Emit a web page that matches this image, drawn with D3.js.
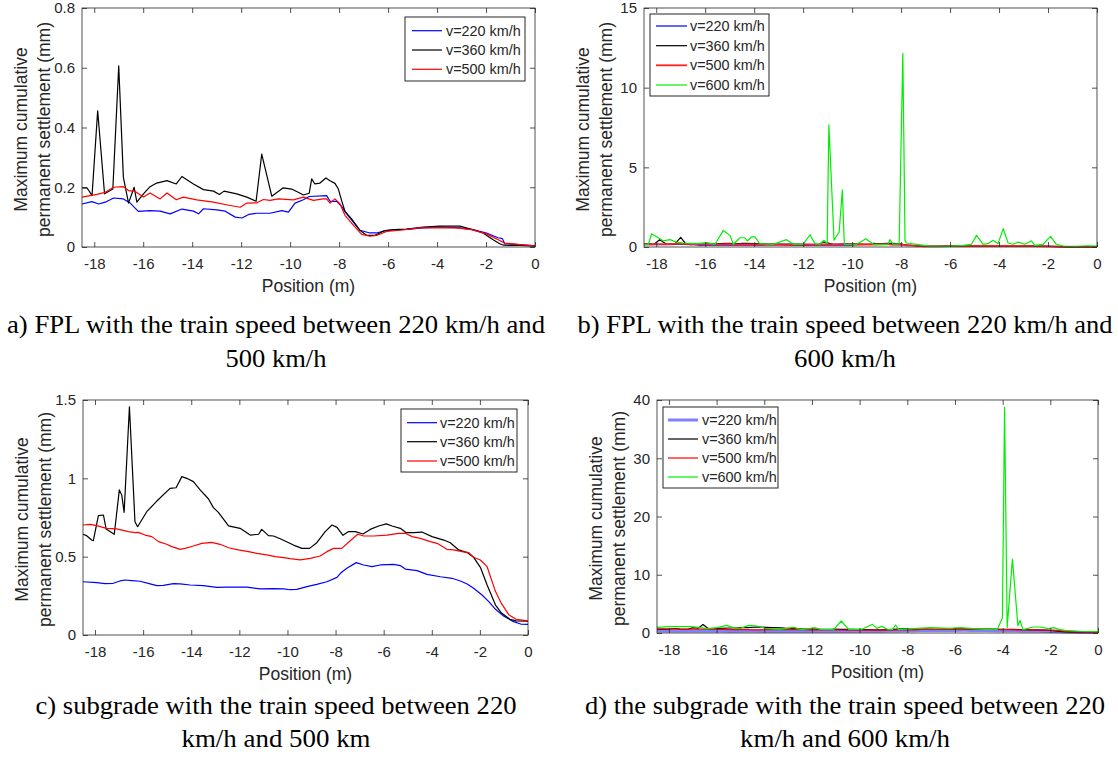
<!DOCTYPE html>
<html>
<head>
<meta charset="utf-8">
<script src="https://d3js.org/d3.v7.min.js"></script>
<style>
  body { margin: 0; background: #fff; }
  svg { display: block; }
  .sans { font-family: "Liberation Sans", Arimo, Arial, sans-serif; }
  .serif { font-family: "Liberation Serif", Tinos, "Times New Roman", serif; }
</style>
</head>
<body>
<script>
// x ticks shared by every panel (m)
var xTicks = [-18, -16, -14, -12, -10, -8, -6, -4, -2, 0];
var xDomain = [-18.5, 0];

// y ticks per panel (mm)
var aTicks = [0, 0.2, 0.4, 0.6, 0.8];
var bTicks = [0, 5, 10, 15];
var cTicks = [0, 0.5, 1, 1.5];
var dTicks = [0, 10, 20, 30, 40];

var speeds3 = ["v=220 km/h", "v=360 km/h", "v=500 km/h"];
var speeds4 = ["v=220 km/h", "v=360 km/h", "v=500 km/h", "v=600 km/h"];

// FPL, [position, settlement]
var fpl220 = [[-18.5,0.144],[-18.09,0.152],[-17.82,0.144],[-17.55,0.15],[-17.21,0.164],[-16.81,0.161],[-16.53,0.147],[-16.2,0.119],[-15.72,0.122],[-15.31,0.12],[-14.9,0.111],[-14.42,0.127],[-13.95,0.12],[-13.74,0.111],[-13.54,0.128],[-12.99,0.124],[-12.65,0.12],[-12.24,0.1],[-11.97,0.097],[-11.69,0.109],[-11.36,0.113],[-10.82,0.113],[-10.34,0.122],[-10.07,0.117],[-9.8,0.147],[-9.46,0.158],[-9.22,0.169],[-8.51,0.172],[-8.37,0.153],[-8.1,0.153],[-7.9,0.136],[-7.69,0.111],[-7.15,0.056],[-6.74,0.047],[-6.47,0.047],[-6.06,0.056],[-5.25,0.059],[-4.57,0.064],[-3.89,0.067],[-3.07,0.064],[-2.53,0.058],[-1.98,0.047],[-1.51,0.031],[-1.33,0.028],[-1.24,0.011],[-0.8,0.009],[0,0.004]];
var fpl360 = [[-18.5,0.198],[-18.3,0.198],[-18.23,0.19],[-18.09,0.172],[-17.86,0.456],[-17.58,0.178],[-17.24,0.194],[-17.0,0.606],[-16.81,0.233],[-16.6,0.147],[-16.37,0.2],[-16.26,0.15],[-15.99,0.178],[-15.72,0.202],[-15.45,0.214],[-15.03,0.222],[-14.65,0.211],[-14.42,0.236],[-13.95,0.211],[-13.54,0.192],[-13.13,0.187],[-12.89,0.176],[-12.7,0.187],[-12.18,0.178],[-11.77,0.167],[-11.39,0.153],[-11.16,0.311],[-10.75,0.17],[-10.28,0.198],[-9.94,0.194],[-9.67,0.183],[-9.46,0.174],[-9.22,0.18],[-9.12,0.228],[-8.99,0.211],[-8.78,0.214],[-8.54,0.231],[-8.37,0.222],[-8.17,0.213],[-8.03,0.194],[-7.9,0.156],[-7.76,0.119],[-7.49,0.094],[-7.15,0.056],[-6.88,0.039],[-6.54,0.039],[-6.2,0.053],[-5.79,0.058],[-5.25,0.06],[-4.57,0.067],[-3.89,0.07],[-3.07,0.07],[-2.66,0.061],[-2.12,0.047],[-1.71,0.024],[-1.44,0.011],[-1.28,0.006],[-0.6,0.005],[0,0.003]];
var fpl500 = [[-18.5,0.167],[-17.89,0.176],[-17.55,0.183],[-17.21,0.2],[-16.81,0.202],[-16.6,0.189],[-16.33,0.186],[-15.99,0.167],[-15.72,0.181],[-15.31,0.161],[-15.03,0.181],[-14.65,0.158],[-14.36,0.167],[-13.81,0.158],[-13.13,0.15],[-12.45,0.139],[-12.04,0.133],[-11.77,0.147],[-11.36,0.148],[-11.09,0.159],[-10.82,0.156],[-10.48,0.161],[-9.87,0.158],[-9.46,0.167],[-9.05,0.156],[-8.65,0.161],[-8.51,0.161],[-8.37,0.147],[-8.17,0.161],[-7.96,0.144],[-7.76,0.106],[-7.49,0.08],[-7.08,0.042],[-6.74,0.036],[-6.47,0.039],[-6.06,0.052],[-5.52,0.056],[-4.7,0.064],[-3.89,0.064],[-3.21,0.064],[-2.6,0.058],[-1.98,0.044],[-1.44,0.022],[-1.24,0.013],[-0.6,0.008],[0,0.004]];
var fpl600 = [[-18.5,0.17],[-18.32,0.17],[-18.19,0.83],[-17.85,0.52],[-17.71,0.38],[-17.44,0.46],[-17.17,0.31],[-16.9,0.25],[-16.35,0.21],[-15.94,0.27],[-15.6,0.17],[-15.26,1.04],[-14.99,0.73],[-14.85,0.17],[-14.58,0.58],[-14.38,0.58],[-14.28,0.38],[-14.11,0.63],[-13.97,0.63],[-13.77,0.21],[-13.22,0.17],[-12.68,0.46],[-12.4,0.17],[-12.0,0.17],[-11.72,0.77],[-11.52,0.21],[-11.32,0.17],[-11.15,0.42],[-11.02,0.21],[-10.95,7.67],[-10.74,0.42],[-10.53,0.94],[-10.4,3.58],[-10.32,0.17],[-9.82,0.17],[-9.44,0.52],[-9.14,0.17],[-8.53,0.17],[-8.46,0.46],[-8.32,0.17],[-8.08,0.2],[-7.93,12.15],[-7.84,0.4],[-7.78,0.25],[-7.37,0.17],[-6.83,0.06],[-6.01,0.04],[-5.47,0.1],[-5.13,0.17],[-4.92,0.73],[-4.65,0.17],[-4.45,0.21],[-4.24,0.42],[-4.04,0.21],[-3.83,1.15],[-3.63,0.25],[-3.43,0.17],[-3.22,0.31],[-2.95,0.17],[-2.68,0.38],[-2.54,0.1],[-2.2,0.17],[-1.9,0.67],[-1.66,0.17],[-1.39,0.06],[-0.8,0.04],[-0.4,0.08],[0,0.05]];

// subgrade, [position, settlement]
var sub220 = [[-18.5,0.34],[-17.93,0.334],[-17.58,0.328],[-17.24,0.33],[-16.96,0.345],[-16.75,0.351],[-16.47,0.347],[-16.13,0.343],[-15.71,0.326],[-15.43,0.315],[-15.16,0.317],[-14.74,0.328],[-14.46,0.326],[-14.05,0.319],[-13.49,0.315],[-12.94,0.304],[-12.52,0.306],[-12.1,0.306],[-11.69,0.306],[-11.13,0.294],[-10.58,0.296],[-10.16,0.294],[-9.89,0.289],[-9.61,0.291],[-9.19,0.309],[-8.78,0.323],[-8.36,0.34],[-7.94,0.368],[-7.8,0.394],[-7.53,0.426],[-7.14,0.462],[-6.83,0.447],[-6.49,0.436],[-6.14,0.447],[-5.59,0.451],[-5.31,0.443],[-5.1,0.421],[-4.61,0.411],[-4.2,0.387],[-3.64,0.372],[-3.16,0.362],[-2.81,0.345],[-2.53,0.326],[-2.26,0.298],[-1.91,0.255],[-1.63,0.213],[-1.35,0.164],[-1.0,0.12],[-0.6,0.085],[-0.3,0.07],[0,0.068]];
var sub360 = [[-18.5,0.643],[-18.35,0.634],[-18.14,0.606],[-18.07,0.602],[-17.86,0.762],[-17.65,0.766],[-17.54,0.677],[-17.2,0.643],[-16.99,0.926],[-16.89,0.894],[-16.79,0.783],[-16.57,1.457],[-16.34,0.723],[-16.23,0.691],[-15.85,0.787],[-15.43,0.855],[-14.88,0.936],[-14.63,0.94],[-14.39,1.011],[-14.19,1.0],[-13.91,0.979],[-13.63,0.926],[-13.28,0.868],[-13.08,0.813],[-12.87,0.783],[-12.45,0.696],[-11.97,0.681],[-11.55,0.638],[-11.2,0.643],[-11.07,0.674],[-10.79,0.634],[-10.58,0.632],[-10.3,0.614],[-9.75,0.574],[-9.4,0.553],[-9.08,0.553],[-8.78,0.589],[-8.43,0.66],[-8.15,0.702],[-7.94,0.687],[-7.69,0.636],[-7.46,0.66],[-7.18,0.66],[-6.86,0.645],[-6.56,0.674],[-6.21,0.696],[-5.89,0.709],[-5.65,0.696],[-5.31,0.681],[-5.06,0.653],[-4.75,0.653],[-4.41,0.657],[-3.99,0.628],[-3.5,0.606],[-3.23,0.589],[-2.88,0.543],[-2.53,0.526],[-2.26,0.496],[-1.98,0.432],[-1.7,0.319],[-1.35,0.191],[-1.1,0.14],[-0.75,0.1],[-0.5,0.09],[0,0.088]];
var sub500 = [[-18.5,0.702],[-18.21,0.706],[-17.93,0.698],[-17.52,0.681],[-17.1,0.677],[-16.61,0.66],[-16.34,0.653],[-16.2,0.655],[-15.92,0.638],[-15.64,0.628],[-15.36,0.596],[-15.02,0.579],[-14.81,0.564],[-14.46,0.547],[-14.26,0.553],[-13.91,0.568],[-13.56,0.585],[-13.15,0.591],[-12.8,0.579],[-12.45,0.557],[-12.04,0.543],[-11.62,0.532],[-11.27,0.521],[-10.86,0.511],[-10.51,0.5],[-10.16,0.494],[-9.89,0.487],[-9.47,0.479],[-9.05,0.489],[-8.64,0.504],[-8.36,0.532],[-8.08,0.553],[-7.74,0.553],[-7.39,0.602],[-7.08,0.643],[-6.83,0.632],[-6.42,0.632],[-5.86,0.638],[-5.38,0.649],[-5.1,0.649],[-4.82,0.628],[-4.48,0.617],[-4.06,0.596],[-3.78,0.585],[-3.37,0.547],[-3.09,0.543],[-2.74,0.532],[-2.46,0.526],[-2.26,0.496],[-1.98,0.479],[-1.7,0.436],[-1.35,0.277],[-1.1,0.2],[-0.8,0.13],[-0.5,0.1],[0,0.09]];
var sub600 = [[-18.5,0.97],[-17.94,1.09],[-17.1,1.09],[-16.75,0.97],[-16.4,0.74],[-15.98,0.91],[-15.57,1.31],[-15.29,0.91],[-15.0,0.8],[-14.66,1.31],[-14.31,1.2],[-13.96,0.8],[-13.33,0.63],[-12.77,0.97],[-12.42,0.57],[-11.86,0.91],[-11.65,0.63],[-11.09,0.57],[-10.77,2.06],[-10.46,0.63],[-9.9,0.63],[-9.46,1.49],[-9.28,0.8],[-9.07,1.14],[-8.79,0.57],[-8.62,0.63],[-8.49,1.37],[-8.37,0.57],[-7.74,0.74],[-7.04,0.91],[-6.2,0.8],[-5.78,0.91],[-5.22,0.74],[-4.73,0.63],[-4.22,0.63],[-4.01,2.57],[-3.92,38.74],[-3.81,0.97],[-3.59,12.69],[-3.36,1.26],[-3.27,2.17],[-3.15,0.57],[-2.71,1.03],[-2.43,1.03],[-2.08,0.74],[-1.87,0.91],[-1.59,0.57],[-1.38,0.46],[-0.8,0.3],[0,0.25]];

var W = 1118, H = 758;
var svg = d3.select("body").append("svg").attr("width", W).attr("height", H);
var ink = "#262626";

var panels = [
  { left: 82, right: 535, top: 8, bottom: 247, ymax: 0.8, yTicks: aTicks,
    series: [
      { data: fpl220, color: "#0000ff", w: 1.2 },
      { data: fpl360, color: "#000000", w: 1.2 },
      { data: fpl500, color: "#ff0000", w: 1.2 }],
    legend: { x: 405, y: 17, w: 120, h: 64, rows: [30.7, 50, 69.3], x1: 412, x2: 442, tx: 446, names: speeds3 } },
  { left: 644, right: 1097, top: 8, bottom: 247, ymax: 15, yTicks: bTicks,
    series: [
      { data: fpl220, color: "#0000ff", w: 1.2 },
      { data: fpl360, color: "#000000", w: 1.2 },
      { data: fpl500, color: "#ff2020", w: 1.8 },
      { data: fpl600, color: "#00ee00", w: 1.2 }],
    legend: { x: 650, y: 14, w: 119, h: 82, rows: [26, 45.7, 65.3, 85], x1: 656, x2: 687, tx: 690, names: speeds4 } },
  { left: 83, right: 528, top: 400, bottom: 635, ymax: 1.5, yTicks: cTicks,
    series: [
      { data: sub220, color: "#0000ff", w: 1.2 },
      { data: sub360, color: "#000000", w: 1.2 },
      { data: sub500, color: "#ff0000", w: 1.2 }],
    legend: { x: 401, y: 409, w: 116, h: 63, rows: [422.7, 441.7, 461], x1: 407, x2: 437, tx: 440, names: speeds3 } },
  { left: 657, right: 1098, top: 400, bottom: 633, ymax: 40, yTicks: dTicks,
    series: [
      { data: sub220, color: "#7f7fff", w: 3 },
      { data: sub360, color: "#000000", w: 1.2 },
      { data: sub500, color: "#ff0000", w: 1.2 },
      { data: sub600, color: "#00ee00", w: 1.2 }],
    legend: { x: 663, y: 407, w: 115, h: 81, rows: [420, 439, 458, 477], x1: 668, x2: 698, tx: 702, names: speeds4 } }
];

var captions = [
  { cx: 276, lines: ["a) FPL with the train speed between 220 km/h and", "500 km/h"], y: [333, 367], len: [538, 101] },
  { cx: 845, lines: ["b) FPL with the train speed between 220 km/h and", "600 km/h"], y: [333, 367], len: [535, 102] },
  { cx: 276, lines: ["c) subgrade with the train speed between 220", "km/h and 500 km"], y: [714, 747], len: [481, 189] },
  { cx: 845, lines: ["d) the subgrade with the train speed between 220", "km/h and 600 km/h"], y: [714, 747], len: [520, 210] }
];

panels.forEach(function(p) {
  var x = d3.scaleLinear().domain(xDomain).range([p.left, p.right]);
  var y = d3.scaleLinear().domain([0, p.ymax]).range([p.bottom, p.top]);
  var g = svg.append("g").attr("class", "sans");

  // lines
  var line = d3.line().x(function(d){ return x(d[0]); }).y(function(d){ return y(d[1]); });
  p.series.forEach(function(s) {
    g.append("path").attr("d", line(s.data)).attr("fill", "none")
      .attr("stroke", s.color).attr("stroke-width", s.w).attr("stroke-linejoin", "round");
  });

  // axes, ticks pointing inward on all four sides
  var fmt = function(d){ return String(d); };
  var bottom = g.append("g").attr("transform", "translate(0," + p.bottom + ")")
    .call(d3.axisBottom(x).tickValues(xTicks).tickSize(-5).tickPadding(11).tickFormat(fmt));
  var top = g.append("g").attr("transform", "translate(0," + p.top + ")")
    .call(d3.axisTop(x).tickValues(xTicks).tickSize(-5).tickFormat(""));
  var left = g.append("g").attr("transform", "translate(" + p.left + ",0)")
    .call(d3.axisLeft(y).tickValues(p.yTicks).tickSize(-5).tickPadding(7).tickFormat(fmt));
  var right = g.append("g").attr("transform", "translate(" + p.right + ",0)")
    .call(d3.axisRight(y).tickValues(p.yTicks).tickSize(-5).tickFormat(""));
  [bottom, top, left, right].forEach(function(a) {
    a.attr("font-family", null).attr("font-size", null);
    a.select(".domain").remove();
    a.selectAll("line").attr("stroke", ink).attr("stroke-width", 0.8);
    a.selectAll("text").attr("fill", ink).style("font-size", "15px");
  });
  g.append("rect").attr("x", p.left).attr("y", p.top)
    .attr("width", p.right - p.left).attr("height", p.bottom - p.top)
    .attr("fill", "none").attr("stroke", ink).attr("stroke-width", 0.8);

  // axis labels
  g.append("text").attr("x", (p.left + p.right) / 2).attr("y", p.bottom + 45)
    .attr("text-anchor", "middle").attr("fill", ink)
    .style("font-size", "17.5px").text("Position (m)");
  var cy = (p.top + p.bottom) / 2 + 2;
  g.append("text").attr("transform", "translate(" + (p.left - 55) + "," + cy + ") rotate(-90)")
    .attr("text-anchor", "middle").attr("fill", ink)
    .style("font-size", "17.5px").text("Maximum cumulative");
  g.append("text").attr("transform", "translate(" + (p.left - 32) + "," + cy + ") rotate(-90)")
    .attr("text-anchor", "middle").attr("fill", ink)
    .style("font-size", "17.5px").text("permanent settlement (mm)");

  // legend
  var L = p.legend;
  g.append("rect").attr("x", L.x).attr("y", L.y).attr("width", L.w).attr("height", L.h)
    .attr("fill", "#fff").attr("stroke", ink).attr("stroke-width", 1);
  L.names.forEach(function(name, i) {
    var s = p.series[i];
    g.append("line").attr("x1", L.x1).attr("x2", L.x2).attr("y1", L.rows[i]).attr("y2", L.rows[i])
      .attr("stroke", s.color).attr("stroke-width", s.w);
    g.append("text").attr("x", L.tx).attr("y", L.rows[i] + 5).attr("fill", ink)
      .style("font-size", "14.4px").text(name);
  });
});

// captions
captions.forEach(function(c) {
  c.lines.forEach(function(t, i) {
    svg.append("text").attr("class", "serif").attr("x", c.cx).attr("y", c.y[i]).attr("text-anchor", "middle")
      .attr("textLength", c.len[i]).attr("lengthAdjust", "spacingAndGlyphs")
      .attr("fill", "#000").style("font-size", "26px").text(t);
  });
});
</script>
</body>
</html>
